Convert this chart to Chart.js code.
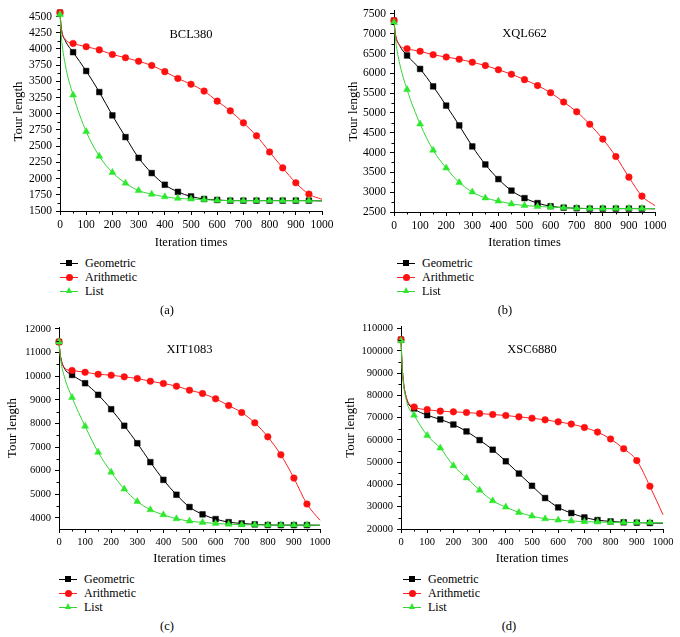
<!DOCTYPE html>
<html>
<head>
<meta charset="utf-8">
<script src="https://cdn.jsdelivr.net/npm/chart.js@4/dist/chart.umd.min.js"></script>
<style>
html,body{margin:0;padding:0;background:#fff;}
body{width:680px;height:637px;position:relative;overflow:hidden;font-family:"Liberation Serif","DejaVu Serif",serif;}
.panel{position:absolute;width:340px;height:250px;}
.legend{position:absolute;font-size:12px;color:#000;}
.legend .row{position:relative;height:14px;line-height:14px;padding-left:25px;white-space:nowrap;}
.legend .ln{position:absolute;left:0;top:7px;width:18px;height:1px;}
.legend .mk{position:absolute;}
.cap{position:absolute;font-size:12.5px;color:#000;transform:translate(-50%,-50%);}
</style>
</head>
<body>
<div class="panel" style="left:0;top:0"><canvas id="ca" width="340" height="250"></canvas></div>
<div class="panel" style="left:340px;top:0"><canvas id="cb" width="340" height="250"></canvas></div>
<div class="panel" style="left:0;top:316px"><canvas id="cc" width="340" height="250"></canvas></div>
<div class="panel" style="left:340px;top:316px"><canvas id="cd" width="340" height="250"></canvas></div>
<script>
// iteration values (markers every 50, extra points only shape the early drop)
const iterations = [0, 5, 20, 50, 100, 150, 200, 250, 300, 350, 400, 450, 500, 550, 600, 650, 700, 750, 800, 850, 900, 950, 1000];
const xTicks = [0, 100, 200, 300, 400, 500, 600, 700, 800, 900, 1000];

// (a) BCL380
const geoA  = [4560, 4320, 4130, 3950, 3660, 3335, 2975, 2640, 2320, 2085, 1905, 1795, 1725, 1685, 1670, 1660, 1660, 1660, 1660, 1660, 1660, 1660, 1655];
const ariA  = [4560, 4320, 4150, 4085, 4035, 3985, 3915, 3865, 3810, 3745, 3650, 3545, 3455, 3350, 3195, 3045, 2860, 2660, 2410, 2165, 1935, 1760, 1680];
const listA = [4530, 4200, 3760, 3290, 2725, 2345, 2095, 1930, 1815, 1760, 1720, 1695, 1685, 1675, 1665, 1660, 1660, 1660, 1660, 1660, 1660, 1660, 1655];
const yTicksA = [1500, 1750, 2000, 2250, 2500, 2750, 3000, 3250, 3500, 3750, 4000, 4250, 4500];
// (b) XQL662
const geoB  = [7330, 7000, 6720, 6450, 6110, 5670, 5185, 4685, 4155, 3700, 3330, 3040, 2850, 2725, 2645, 2610, 2595, 2585, 2585, 2585, 2585, 2585, 2580];
const ariB  = [7330, 7000, 6720, 6620, 6555, 6470, 6410, 6355, 6280, 6195, 6090, 5975, 5840, 5690, 5510, 5275, 5030, 4715, 4340, 3900, 3380, 2900, 2660];
const listB = [7280, 6900, 6300, 5590, 4720, 4060, 3610, 3245, 3005, 2855, 2775, 2705, 2665, 2640, 2625, 2610, 2595, 2590, 2590, 2590, 2590, 2590, 2585];
const yTicksB = [2500, 3000, 3500, 4000, 4500, 5000, 5500, 6000, 6500, 7000, 7500];
// (c) XIT1083
const geoC  = [11450, 10900, 10350, 10050, 9700, 9210, 8600, 7900, 7160, 6360, 5610, 4980, 4460, 4150, 3950, 3820, 3765, 3725, 3700, 3695, 3695, 3695, 3690];
const ariC  = [11450, 10900, 10350, 10240, 10165, 10080, 10040, 9970, 9900, 9785, 9690, 9575, 9405, 9265, 9040, 8755, 8460, 8025, 7430, 6670, 5685, 4585, 3900];
const listC = [11450, 10800, 10000, 9095, 7880, 6780, 5935, 5220, 4695, 4345, 4130, 3965, 3865, 3810, 3765, 3735, 3710, 3705, 3700, 3700, 3700, 3700, 3690];
const yTicksC = [4000, 5000, 6000, 7000, 8000, 9000, 10000, 11000, 12000];
// (d) XSC6880
const geoD  = [105000, 92000, 79000, 74100, 71100, 69200, 66900, 63800, 59900, 55600, 50400, 44900, 39400, 33900, 29700, 27150, 25200, 24000, 23400, 23000, 22850, 22700, 22600];
const ariD  = [105000, 92000, 79300, 74800, 73600, 72900, 72600, 72300, 71850, 71400, 70950, 70350, 69750, 69000, 68100, 67100, 65600, 63500, 60400, 56050, 50700, 39200, 26400];
const listD = [104500, 91000, 78000, 71100, 62000, 56350, 48450, 42950, 37450, 32650, 29850, 27450, 25800, 24600, 24000, 23600, 23300, 23150, 23000, 22950, 22900, 22900, 22800];
const yTicksD = [20000, 30000, 40000, 50000, 60000, 70000, 80000, 90000, 100000, 110000];

const seriesNames = ['Geometric', 'Arithmetic', 'List'];
const panelTitles = ['BCL380', 'XQL662', 'XIT1083', 'XSC6880'];
const panelLetters = ['(a)', '(b)', '(c)', '(d)'];
// y axis extent [min, max]
const yRanges = [[1500, 4570], [2500, 7575], [3530, 12080], [20000, 111000]];
const yTickSets = [yTicksA, yTicksB, yTicksC, yTicksD];

const colors = ['#000000', '#ff1010', '#2ee82e'];
const lineColors = ['#000000', '#ff2020', '#33d633'];
const styles = ['rect', 'circle', 'triangle'];
const radii = [4.0, 3.3, 4.0];

const layouts = [
  {id:'ca', pad:{left:11, top:12, right:18, bottom:0}, yW:49, xH:39, font:11.5},
  {id:'cb', pad:{left:6, top:8, right:25, bottom:0}, yW:48, xH:38, font:11.5},
  {id:'cc', pad:{left:5, top:11, right:20, bottom:0}, yW:54, xH:37, font:10.5},
  {id:'cd', pad:{left:3, top:10, right:17, bottom:0}, yW:58, xH:37, font:10.5}
];

function pts(arr){ return iterations.map((x, i) => ({x: x, y: arr[i]})); }

const minorTicks = {
  id: 'minorTicks',
  afterDraw(chart){
    const ctx = chart.ctx, xs = chart.scales.x, ys = chart.scales.y;
    ctx.save();
    ctx.strokeStyle = '#000'; ctx.lineWidth = 1;
    ctx.beginPath();
    for (let i = 0; i < xs.ticks.length - 1; i++){
      const px = Math.round(xs.getPixelForValue((xs.ticks[i].value + xs.ticks[i+1].value) / 2)) + 0.5;
      ctx.moveTo(px, xs.top); ctx.lineTo(px, xs.top + 2.5);
    }
    for (let i = 0; i < ys.ticks.length - 1; i++){
      const py = Math.round(ys.getPixelForValue((ys.ticks[i].value + ys.ticks[i+1].value) / 2)) + 0.5;
      ctx.moveTo(ys.right, py); ctx.lineTo(ys.right - 2.5, py);
    }
    ctx.stroke();
    ctx.restore();
  }
};

const insideTitle = {
  id: 'insideTitle',
  afterDraw(chart, args, opts){
    const ctx = chart.ctx, a = chart.chartArea;
    ctx.save();
    ctx.fillStyle = '#000';
    ctx.font = '12.5px "Liberation Serif", serif';
    ctx.textAlign = 'center'; ctx.textBaseline = 'middle';
    ctx.fillText(opts.text, (a.left + a.right) / 2, a.top + 23);
    ctx.restore();
  }
};

const panelData = [[geoA, ariA, listA], [geoB, ariB, listB], [geoC, ariC, listC], [geoD, ariD, listD]];

panelData.forEach((sets, p) => {
  const L = layouts[p];
  const [yMin, yMax] = yRanges[p];
  const yTicks = yTickSets[p];
  const tickFont = {family: '"Liberation Serif", serif', size: L.font};
  new Chart(document.getElementById(L.id), {
    type: 'line',
    data: {
      datasets: sets.map((arr, k) => ({
        label: seriesNames[k],
        data: pts(arr),
        borderColor: lineColors[k],
        borderWidth: 1,
        backgroundColor: colors[k],
        pointBackgroundColor: colors[k],
        pointBorderColor: colors[k],
        pointBorderWidth: 0.5,
        pointStyle: styles[k],
        pointRadius: c => (c.raw && c.raw.x % 50 === 0 && c.raw.x < 1000) ? radii[k] : 0,
        cubicInterpolationMode: 'monotone',
        order: 2 - k,
        clip: false
      }))
    },
    options: {
      responsive: false,
      animation: false,
      events: [],
      layout: {padding: L.pad},
      plugins: {legend: {display: false}, tooltip: {enabled: false}, insideTitle: {text: panelTitles[p]}},
      scales: {
        x: {
          type: 'linear', min: 0, max: 1000,
          afterFit: s => { s.height = L.xH; },
          afterBuildTicks: s => { s.ticks = xTicks.map(v => ({value: v})); },
          ticks: {color: '#000', font: tickFont, padding: 3, maxRotation: 0, autoSkip: false, callback: v => String(v)},
          grid: {drawOnChartArea: false, drawTicks: true, tickLength: 4, color: '#000'},
          border: {display: true, color: '#000', width: 1},
          title: {display: true, text: 'Iteration times', color: '#000', font: {family: '"Liberation Serif", serif', size: 12.5}, padding: 0}
        },
        y: {
          type: 'linear', min: yMin, max: yMax,
          afterFit: s => { s.width = L.yW; },
          afterBuildTicks: s => { s.ticks = yTicks.map(v => ({value: v})); },
          ticks: {color: '#000', font: tickFont, padding: 4, autoSkip: false, callback: v => String(v)},
          grid: {drawOnChartArea: false, drawTicks: true, tickLength: 4, color: '#000'},
          border: {display: true, color: '#000', width: 1},
          title: {display: true, text: 'Tour length', color: '#000', font: {family: '"Liberation Serif", serif', size: 13}, padding: 0}
        }
      }
    },
    plugins: [minorTicks, insideTitle]
  });
});

// legends and captions
const legendPos = [[60, 256], [397, 256], [59, 572], [403, 572]];
const capPos = [[167, 310], [505, 310], [167, 626], [509, 626]];
function markerHtml(k){
  if (k === 0) return '<span class="mk" style="left:6px;top:4px;width:6px;height:6px;background:' + colors[0] + '"></span>';
  if (k === 1) return '<span class="mk" style="left:5.5px;top:3.5px;width:7px;height:7px;border-radius:50%;background:' + colors[1] + '"></span>';
  return '<span class="mk" style="left:5.5px;top:3px;width:0;height:0;border-left:3.5px solid transparent;border-right:3.5px solid transparent;border-bottom:6px solid ' + colors[2] + '"></span>';
}
legendPos.forEach((pos, p) => {
  const d = document.createElement('div');
  d.className = 'legend';
  d.style.left = pos[0] + 'px'; d.style.top = pos[1] + 'px';
  d.innerHTML = seriesNames.map((n, k) =>
    '<div class="row"><span class="ln" style="background:' + lineColors[k] + '"></span>' + markerHtml(k) + n + '</div>').join('');
  document.body.appendChild(d);
  const c = document.createElement('div');
  c.className = 'cap';
  c.style.left = capPos[p][0] + 'px'; c.style.top = capPos[p][1] + 'px';
  c.textContent = panelLetters[p];
  document.body.appendChild(c);
});
</script>
</body>
</html>
